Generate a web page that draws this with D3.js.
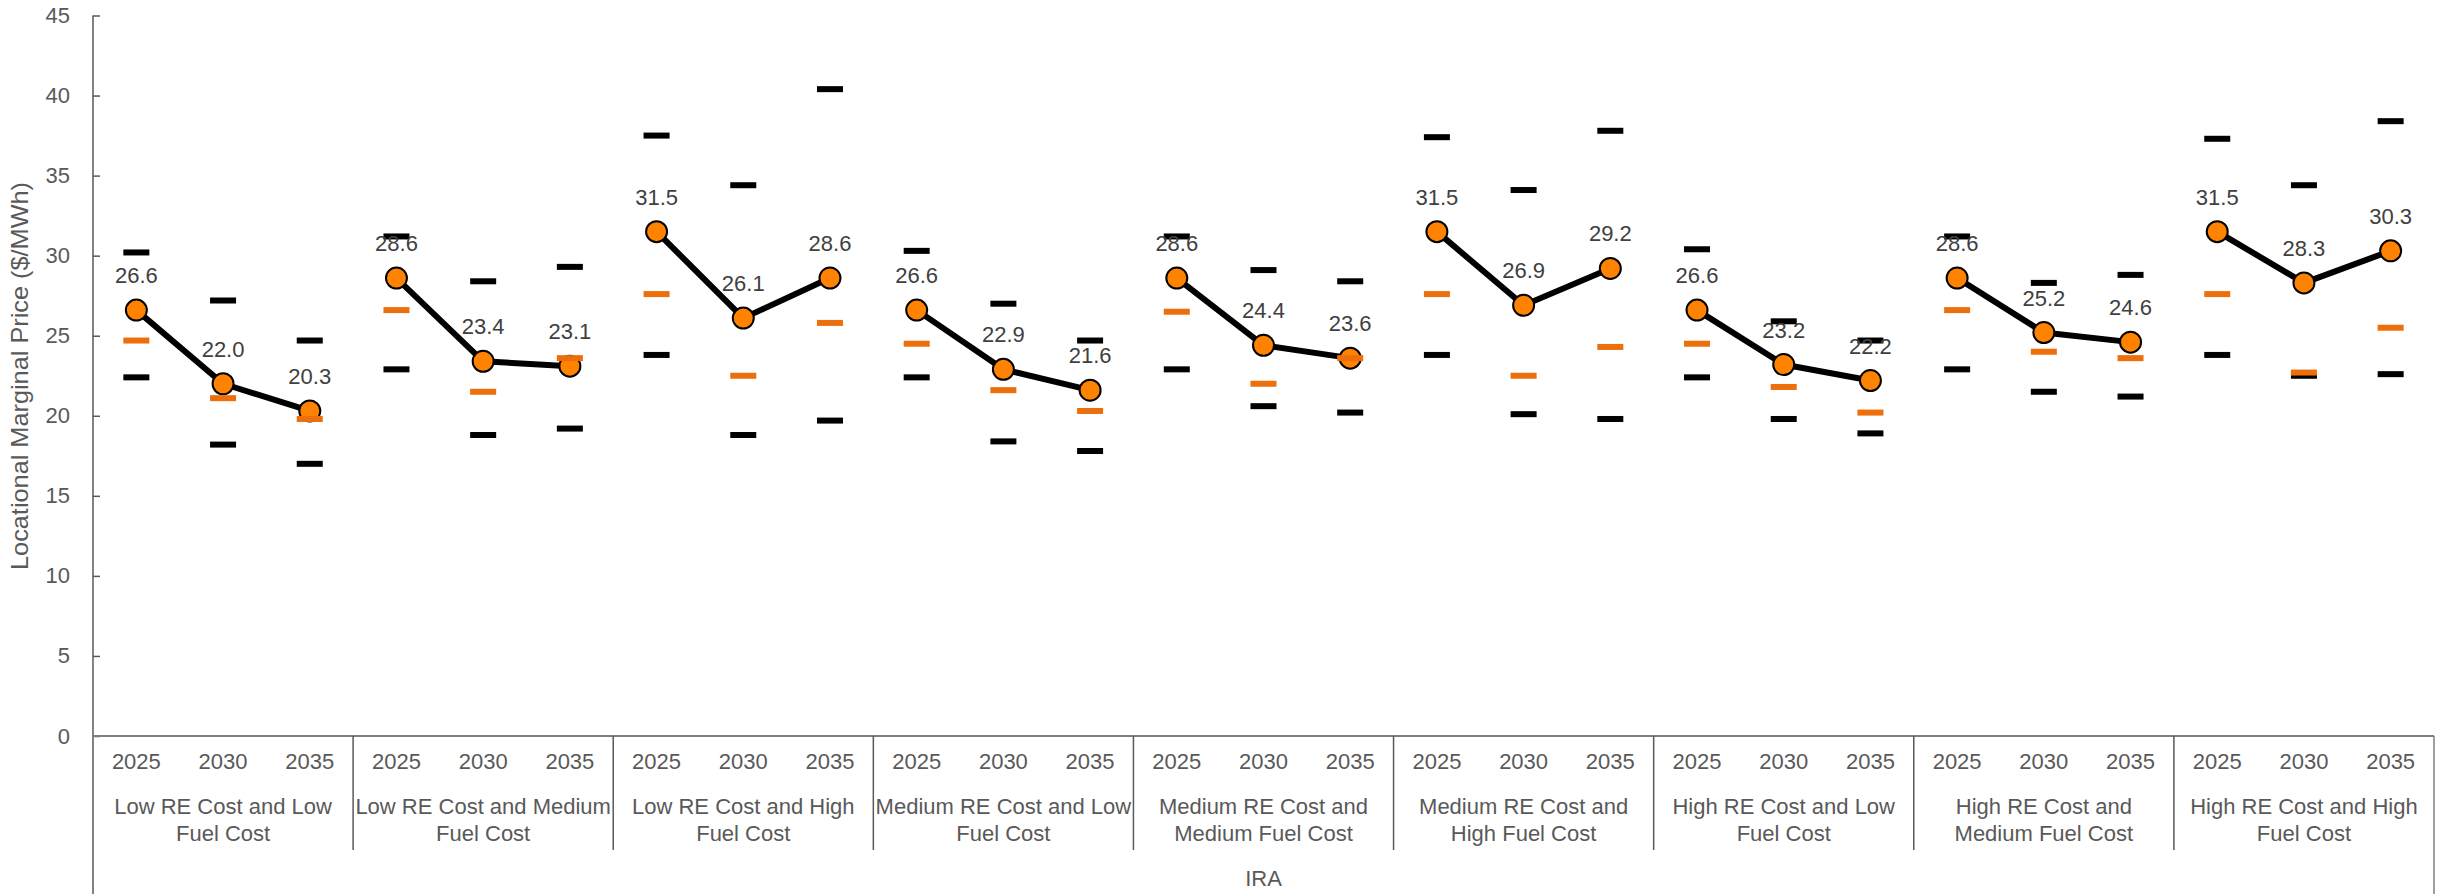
<!DOCTYPE html>
<html>
<head>
<meta charset="utf-8">
<script src="https://cdn.jsdelivr.net/npm/d3@7"></script>
<style>
  body { margin: 0; background: #fff; }
  svg text { font-family: "Liberation Sans", Arial, sans-serif; }
</style>
</head>
<body>
<svg id="chart" width="2446" height="894"></svg>
<script>
// scenario names, two lines each as in the chart
var categories = [
  ["Low RE Cost and Low", "Fuel Cost"],
  ["Low RE Cost and Medium", "Fuel Cost"],
  ["Low RE Cost and High", "Fuel Cost"],
  ["Medium RE Cost and Low", "Fuel Cost"],
  ["Medium RE Cost and", "Medium Fuel Cost"],
  ["Medium RE Cost and", "High Fuel Cost"],
  ["High RE Cost and Low", "Fuel Cost"],
  ["High RE Cost and", "Medium Fuel Cost"],
  ["High RE Cost and High", "Fuel Cost"]
];
var years = ["2025", "2030", "2035"];
var groupLabel = "IRA";
var yTicks = [0, 5, 10, 15, 20, 25, 30, 35, 40, 45];

// values per scenario, one entry per year
var lmpMid = [
  [26.6, 22.0, 20.3], [28.6, 23.4, 23.1], [31.5, 26.1, 28.6],
  [26.6, 22.9, 21.6], [28.6, 24.4, 23.6], [31.5, 26.9, 29.2],
  [26.6, 23.2, 22.2], [28.6, 25.2, 24.6], [31.5, 28.3, 30.3]
];
var lmpHigh = [
  [30.2, 27.2, 24.7], [31.2, 28.4, 29.3], [37.5, 34.4, 40.4],
  [30.3, 27.0, 24.7], [31.2, 29.1, 28.4], [37.4, 34.1, 37.8],
  [30.4, 25.9, 24.7], [31.2, 28.3, 28.8], [37.3, 34.4, 38.4]
];
var lmpLow = [
  [22.4, 18.2, 17.0], [22.9, 18.8, 19.2], [23.8, 18.8, 19.7],
  [22.4, 18.4, 17.8], [22.9, 20.6, 20.2], [23.8, 20.1, 19.8],
  [22.4, 19.8, 18.9], [22.9, 21.5, 21.2], [23.8, 22.5, 22.6]
];
var lmpAlt = [
  [24.7, 21.1, 19.8], [26.6, 21.5, 23.6], [27.6, 22.5, 25.8],
  [24.5, 21.6, 20.3], [26.5, 22.0, 23.6], [27.6, 22.5, 24.3],
  [24.5, 21.8, 20.2], [26.6, 24.0, 23.6], [27.6, 22.7, 25.5]
];

var svg = d3.select("#chart");
var plotLeft = 93, plotRight = 2434, plotTop = 15.5, base = 736, plotBottom = 894;

var y = d3.scaleLinear().domain([0, 45]).range([base, plotTop]);
var xGroup = d3.scaleBand().domain(d3.range(categories.length)).range([plotLeft, plotRight]);
var xYear = d3.scaleBand().domain(years).range([0, xGroup.bandwidth()]);

function px(g, i) { return xGroup(g) + xYear(years[i]) + xYear.bandwidth() / 2; }

// y axis
var yAxis = svg.append("g")
  .attr("transform", "translate(" + plotLeft + ",0)")
  .call(d3.axisLeft(y).tickValues(yTicks).tickSizeInner(-7).tickSizeOuter(0).tickPadding(23));
yAxis.select(".domain").remove();
yAxis.selectAll(".tick line").attr("stroke", "#595959").attr("stroke-width", 1.5);
yAxis.selectAll(".tick text")
  .attr("fill", "#595959")
  .style("font-size", "22px");

svg.append("line")
  .attr("x1", plotLeft).attr("x2", plotLeft)
  .attr("y1", plotTop).attr("y2", plotBottom)
  .attr("stroke", "#595959").attr("stroke-width", 1.5);

svg.append("text")
  .attr("transform", "translate(22,376) rotate(-90)")
  .attr("text-anchor", "middle")
  .attr("dominant-baseline", "middle")
  .attr("fill", "#595959")
  .attr("textLength", 388)
  .attr("lengthAdjust", "spacingAndGlyphs")
  .style("font-size", "24px")
  .text("Locational Marginal Price ($/MWh)");

// baseline and category frame
svg.append("line")
  .attr("x1", plotLeft).attr("x2", plotRight)
  .attr("y1", base).attr("y2", base)
  .attr("stroke", "#7f7f7f").attr("stroke-width", 2);

svg.selectAll("line.sep")
  .data(d3.range(1, categories.length))
  .join("line")
  .classed("sep", true)
  .attr("x1", d => xGroup(d)).attr("x2", d => xGroup(d))
  .attr("y1", base).attr("y2", 850)
  .attr("stroke", "#595959").attr("stroke-width", 1.5);

svg.append("line")
  .attr("x1", plotRight).attr("x2", plotRight)
  .attr("y1", base).attr("y2", plotBottom)
  .attr("stroke", "#7f7f7f").attr("stroke-width", 1.5);

// year labels and scenario names
categories.forEach(function (c, g) {
  svg.selectAll(null)
    .data(years)
    .join("text")
    .attr("x", (d, i) => px(g, i))
    .attr("y", 763)
    .attr("text-anchor", "middle")
    .attr("dominant-baseline", "middle")
    .attr("fill", "#595959")
    .style("font-size", "22px")
    .text(d => d);

  var t = svg.append("text")
    .attr("text-anchor", "middle")
    .attr("fill", "#595959")
    .style("font-size", "22px");
  c.forEach(function (line, k) {
    t.append("tspan")
      .attr("x", xGroup(g) + xGroup.bandwidth() / 2)
      .attr("y", 808 + k * 27)
      .attr("dominant-baseline", "middle")
      .text(line);
  });
});

svg.append("text")
  .attr("x", (plotLeft + plotRight) / 2)
  .attr("y", 880)
  .attr("text-anchor", "middle")
  .attr("dominant-baseline", "middle")
  .attr("fill", "#595959")
  .style("font-size", "22px")
  .text(groupLabel);

// flatten for marks
var rows = [];
categories.forEach(function (c, g) {
  years.forEach(function (yr, i) {
    rows.push({ g: g, i: i, mid: lmpMid[g][i], high: lmpHigh[g][i], low: lmpLow[g][i], alt: lmpAlt[g][i] });
  });
});

var dashW = 26, dashH = 6;

svg.selectAll("rect.high")
  .data(rows)
  .join("rect")
  .classed("high", true)
  .attr("x", d => px(d.g, d.i) - dashW / 2)
  .attr("y", d => y(d.high) - dashH / 2)
  .attr("width", dashW).attr("height", dashH)
  .attr("fill", "#000");

svg.selectAll("rect.low")
  .data(rows)
  .join("rect")
  .classed("low", true)
  .attr("x", d => px(d.g, d.i) - dashW / 2)
  .attr("y", d => y(d.low) - dashH / 2)
  .attr("width", dashW).attr("height", dashH)
  .attr("fill", "#000");

// lines per scenario
var line = d3.line().x(d => px(d.g, d.i)).y(d => y(d.mid));
svg.selectAll("path.series")
  .data(d3.range(categories.length))
  .join("path")
  .classed("series", true)
  .attr("d", g => line(rows.filter(r => r.g === g)))
  .attr("fill", "none")
  .attr("stroke", "#000")
  .attr("stroke-width", 6)
  .attr("stroke-linejoin", "round");

svg.selectAll("circle.pt")
  .data(rows)
  .join("circle")
  .classed("pt", true)
  .attr("cx", d => px(d.g, d.i))
  .attr("cy", d => y(d.mid))
  .attr("r", 10.5)
  .attr("fill", "#ff8200")
  .attr("stroke", "#000")
  .attr("stroke-width", 2);

svg.selectAll("rect.alt")
  .data(rows)
  .join("rect")
  .classed("alt", true)
  .attr("x", d => px(d.g, d.i) - dashW / 2)
  .attr("y", d => y(d.alt) - dashH / 2)
  .attr("width", dashW).attr("height", dashH)
  .attr("fill", "#ec6f0c");

svg.selectAll("text.val")
  .data(rows)
  .join("text")
  .classed("val", true)
  .attr("x", d => px(d.g, d.i))
  .attr("y", d => y(d.mid) - 27)
  .attr("text-anchor", "middle")
  .attr("fill", "#404040")
  .style("font-size", "22px")
  .text(d => d.mid.toFixed(1));
</script>
</body>
</html>
